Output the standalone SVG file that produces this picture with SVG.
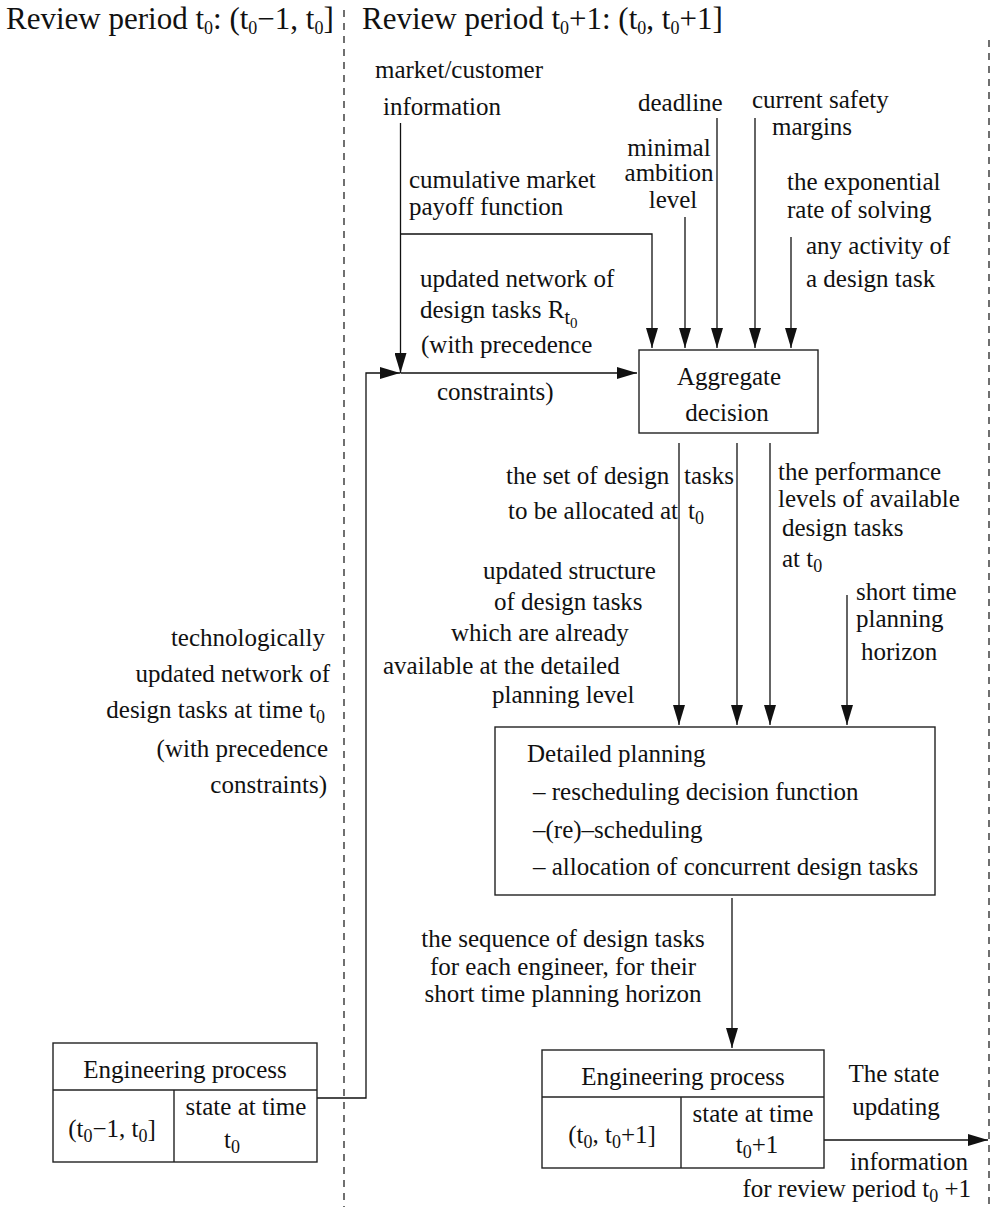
<svg xmlns="http://www.w3.org/2000/svg" width="991" height="1207" viewBox="0 0 991 1207">
<style>
text{font-family:"Liberation Serif","Times New Roman",serif;fill:#111;font-size:25px}
.hdr{font-size:31px}
.m{text-anchor:middle}
.e{text-anchor:end}
.box{fill:none;stroke:#222;stroke-width:1.4}
.arr{fill:none;stroke:#111;stroke-width:1.3;marker-end:url(#ah)}
.dash{fill:none;stroke:#111;stroke-width:1.2;stroke-dasharray:7 6}
.s{font-size:18px}
.ss{font-size:15px}
</style>
<defs>
<marker id="ah" markerUnits="userSpaceOnUse" markerWidth="20" markerHeight="12" refX="20" refY="6" orient="auto">
<path d="M0,0 L20,6 L0,12 z" fill="#111"/>
</marker>
</defs>

<g id="periods">
<line class="dash" x1="344" y1="10" x2="344" y2="1207"/>
<line class="dash" x1="989" y1="40" x2="989" y2="1207"/>
<text class="hdr" x="6" y="29">Review period t<tspan class="s" dy="5">0</tspan><tspan dy="-5">: (t</tspan><tspan class="s" dy="5">0</tspan><tspan dy="-5">−1, t</tspan><tspan class="s" dy="5">0</tspan><tspan dy="-5">]</tspan></text>
<text class="hdr" x="362" y="29">Review period t<tspan class="s" dy="5">0</tspan><tspan dy="-5">+1: (t</tspan><tspan class="s" dy="5">0</tspan><tspan dy="-5">, t</tspan><tspan class="s" dy="5">0</tspan><tspan dy="-5">+1]</tspan></text>
</g>

<g id="connectors">
<line class="arr" x1="400.5" y1="123" x2="400.5" y2="373"/>
<polyline class="arr" points="400.5,234 652,234 652,348"/>
<line class="arr" x1="400.5" y1="373" x2="637" y2="373"/>
<polyline class="arr" points="317,1098 366,1098 366,373 400,373"/>
<line class="arr" x1="685" y1="217" x2="685" y2="348"/>
<line class="arr" x1="717" y1="118" x2="717" y2="348"/>
<line class="arr" x1="755" y1="118" x2="755" y2="348"/>
<line class="arr" x1="791" y1="237" x2="791" y2="348"/>
<line class="arr" x1="679" y1="443" x2="679" y2="725"/>
<line class="arr" x1="737" y1="443" x2="737" y2="725"/>
<line class="arr" x1="770" y1="443" x2="770" y2="725"/>
<line class="arr" x1="847" y1="595" x2="847" y2="725"/>
<line class="arr" x1="732" y1="898" x2="732" y2="1048"/>
<line class="arr" x1="824" y1="1140" x2="988" y2="1140"/>
</g>

<g id="labels">
<text x="375" y="78">market/customer</text>
<text x="383" y="115">information</text>
<text x="409" y="188">cumulative market</text>
<text x="409" y="215">payoff function</text>
<text x="420" y="287">updated network of</text>
<text x="420" y="318">design tasks R<tspan dy="6" font-size="20">t</tspan><tspan dy="4" class="ss">0</tspan></text>
<text x="421" y="353">(with precedence</text>
<text x="437" y="400">constraints)</text>

<text x="638" y="111">deadline</text>
<text x="752" y="108">current safety</text>
<text x="772" y="135">margins</text>
<text class="m" x="669" y="156">minimal</text>
<text class="m" x="669" y="181">ambition</text>
<text class="m" x="673" y="208">level</text>
<text x="787" y="190">the exponential</text>
<text x="787" y="218">rate of solving</text>
<text x="806" y="254">any activity of</text>
<text x="806" y="287">a design task</text>

<text x="506" y="484">the set of design</text>
<text x="684" y="484">tasks</text>
<text x="508" y="519">to be allocated at</text>
<text x="688" y="519">t<tspan class="s" dy="5">0</tspan></text>
<text x="778" y="480">the performance</text>
<text x="778" y="507">levels of available</text>
<text x="782" y="536">design tasks</text>
<text x="782" y="567">at t<tspan class="s" dy="5">0</tspan></text>
<text x="483" y="579">updated structure</text>
<text x="494" y="610">of design tasks</text>
<text x="451" y="641">which are already</text>
<text x="383" y="674">available at the detailed</text>
<text x="492" y="703">planning level</text>
<text x="856" y="600">short time</text>
<text x="856" y="627">planning</text>
<text x="861" y="660">horizon</text>

<text class="e" x="325" y="646">technologically</text>
<text class="e" x="330" y="682">updated network of</text>
<text class="e" x="325" y="718">design tasks at time t<tspan class="s" dy="5">0</tspan></text>
<text class="e" x="328" y="757">(with precedence</text>
<text class="e" x="327" y="793">constraints)</text>

<text class="m" x="563" y="947">the sequence of design tasks</text>
<text class="m" x="563" y="975">for each engineer, for their</text>
<text class="m" x="563" y="1002">short time planning horizon</text>

<text class="m" x="894" y="1082">The state</text>
<text class="m" x="896" y="1115">updating</text>
<text class="m" x="909" y="1170">information</text>
<text class="e" x="971" y="1197">for review period t<tspan class="s" dy="5">0</tspan><tspan dy="-5"> +1</tspan></text>
</g>

<g id="aggregate">
<rect class="box" x="639" y="350" width="179" height="83"/>
<text class="m" x="729" y="385">Aggregate</text>
<text class="m" x="727" y="421">decision</text>
</g>

<g id="detailed">
<rect class="box" x="495" y="727" width="440" height="168"/>
<text x="527" y="762">Detailed planning</text>
<text x="533" y="800">– rescheduling decision function</text>
<text x="533" y="838">–(re)–scheduling</text>
<text x="533" y="875">– allocation of concurrent design tasks</text>
</g>

<g id="eng1">
<rect class="box" x="53" y="1043" width="264" height="119"/>
<line class="box" x1="53" y1="1090" x2="317" y2="1090"/>
<line class="box" x1="174" y1="1090" x2="174" y2="1162"/>
<text class="m" x="185" y="1078">Engineering process</text>
<text class="m" x="112" y="1137">(t<tspan class="s" dy="5">0</tspan><tspan dy="-5">−1, t</tspan><tspan class="s" dy="5">0</tspan><tspan dy="-5">]</tspan></text>
<text class="m" x="246" y="1115">state at time</text>
<text class="m" x="232" y="1148">t<tspan class="s" dy="5">0</tspan></text>
</g>

<g id="eng2">
<rect class="box" x="542" y="1050" width="282" height="118"/>
<line class="box" x1="542" y1="1097" x2="824" y2="1097"/>
<line class="box" x1="681" y1="1097" x2="681" y2="1168"/>
<text class="m" x="683" y="1085">Engineering process</text>
<text class="m" x="612" y="1143">(t<tspan class="s" dy="5">0</tspan><tspan dy="-5">, t</tspan><tspan class="s" dy="5">0</tspan><tspan dy="-5">+1]</tspan></text>
<text class="m" x="753" y="1122">state at time</text>
<text class="m" x="757" y="1153">t<tspan class="s" dy="5">0</tspan><tspan dy="-5">+1</tspan></text>
</g>
</svg>
